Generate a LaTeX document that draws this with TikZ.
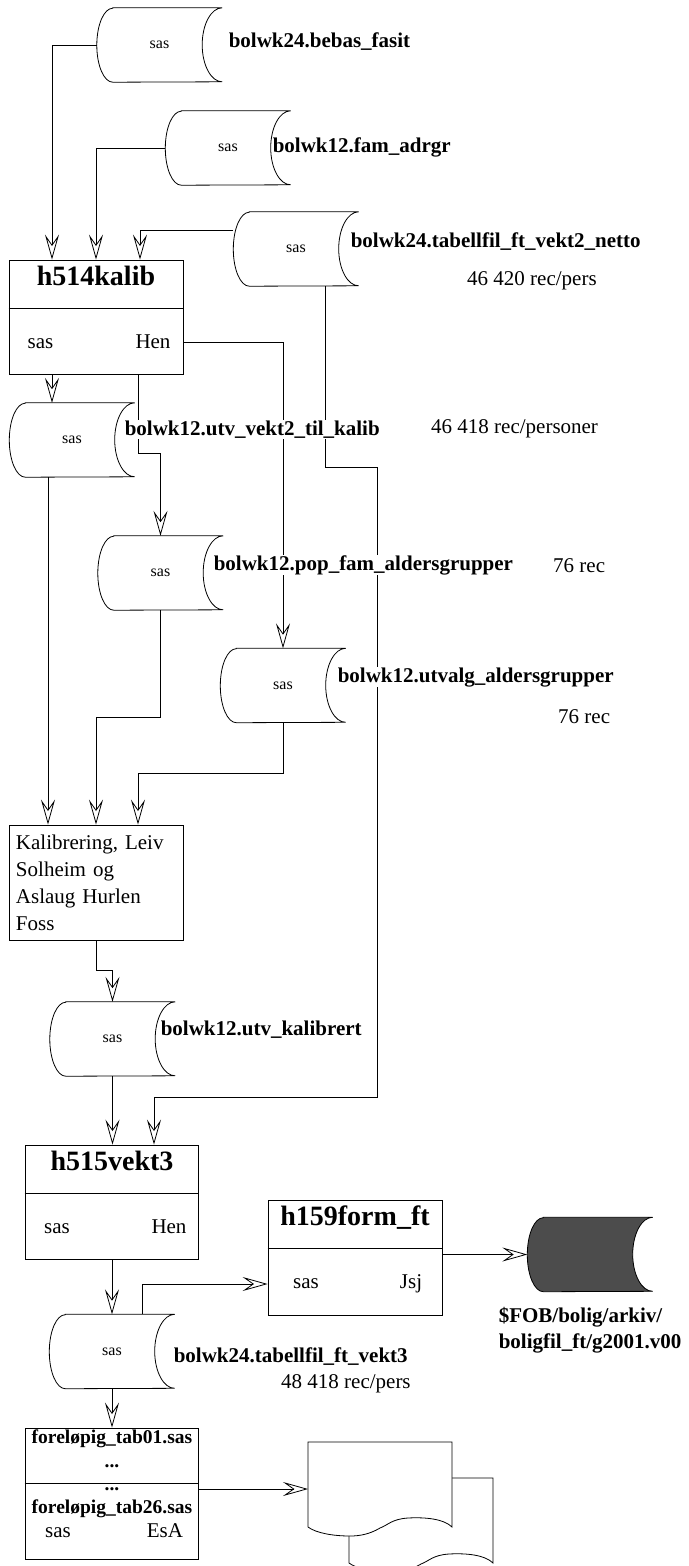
\documentclass[tikz,border=0pt]{standalone}
\usepackage{fontspec}
\setmainfont{Liberation Serif}
\usetikzlibrary{arrows.meta, calc}

\begin{document}
\begin{tikzpicture}[
    x=1pt, y=-1pt,
    % Stiler
    lagret/.style={rectangle, minimum width=125pt, minimum height=74pt, inner sep=0pt, font=\fontsize{16}{18}\selectfont},
    datakant/.style={draw=black, line width=0.8pt, fill=white},
    boks/.style={rectangle, draw=black, line width=0.8pt, minimum width=174pt, inner sep=0pt, fill=white},
    tittel/.style={font=\fontsize{28}{32}\selectfont\bfseries, anchor=base, inner sep=0pt},
    tekst/.style={font=\fontsize{21}{27}\selectfont, anchor=base, inner sep=0pt},
    smaafet/.style={font=\fontsize{19.5}{24}\selectfont\bfseries, anchor=base, inner sep=0pt},
    filnavn/.style={font=\fontsize{21}{27}\selectfont\bfseries, anchor=base west, fill=white, inner sep=0.6pt},
    antall/.style={font=\fontsize{21}{27}\selectfont, anchor=base west, inner sep=0pt},
    pil/.style={draw=black, line width=0.8pt, -{Stealth[open, length=25pt, width=14pt, inset=10pt]}}
]
\useasboundingbox (0,0) rectangle (688,1566);

% ==========================
% DATASETT (lagrede data)
% ==========================
\node[lagret] (bebas)     at (159.5,45)   {sas};
\node[lagret] (adrgr)     at (228,148)    {sas};
\node[lagret] (netto)     at (296,249)    {sas};
\node[lagret] (tilkalib)  at (72,440)     {sas};
\node[lagret] (popfam)    at (160.5,573)  {sas};
\node[lagret] (utvalg)    at (283,685.5)  {sas};
\node[lagret] (kalibrert) at (112.5,1039) {sas};
\node[lagret] (vekttre)   at (112,1351.5) {sas};
\node[lagret] (arkiv)     at (590,1254.5) {};

\foreach \n in {bebas, adrgr, netto, tilkalib, popfam, utvalg, kalibrert, vekttre} {
  \draw[datakant] ([xshift=16pt]\n.north west) -- (\n.north east)
    arc[start angle=90, end angle=270, x radius=20pt, y radius=37pt]
    -- ([xshift=16pt]\n.south west)
    arc[start angle=270, end angle=90, x radius=16pt, y radius=37pt] -- cycle;
  \node[lagret] at (\n) {sas};
}
\draw[datakant, fill=black!70] ([xshift=16pt]arkiv.north west) -- (arkiv.north east)
    arc[start angle=90, end angle=270, x radius=20pt, y radius=37pt]
    -- ([xshift=16pt]arkiv.south west)
    arc[start angle=270, end angle=90, x radius=16pt, y radius=37pt] -- cycle;

% ==========================
% PROGRAMBOKSER
% ==========================
\node[boks, minimum height=114pt] (kalib) at (96,317) {};
\draw[line width=0.8pt] ([yshift=-49pt]kalib.north west) -- ([yshift=-49pt]kalib.north east);
\node[tittel] (kalibtittel) at (96,285) {h514kalib};
\node[tekst] (kalibsas) at (40.5,348) {sas};
\node[tekst] (kalibhen) at (153,348) {Hen};

\node[boks, minimum height=115pt, text width=160pt, align=left, inner xsep=7pt,
      font=\fontsize{21}{27}\selectfont] (kalibrering) at (96,882.5)
      {Kalibrering, Leiv\\Solheim og\\Aslaug Hurlen\\Foss};

\node[boks, minimum width=173pt, minimum height=114pt] (vekt) at (111.5,1202) {};
\draw[line width=0.8pt] ([yshift=-49pt]vekt.north west) -- ([yshift=-49pt]vekt.north east);
\node[tittel] (vekttittel) at (112,1170) {h515vekt3};
\node[tekst] (vektsas) at (57,1233) {sas};
\node[tekst] (vekthen) at (169,1233) {Hen};

\node[boks, minimum height=115pt] (form) at (355,1257.5) {};
\draw[line width=0.8pt] ([yshift=-49pt]form.north west) -- ([yshift=-49pt]form.north east);
\node[tittel] (formtittel) at (355,1225) {h159form\_ft};
\node[tekst] (formsas) at (306,1288) {sas};
\node[tekst] (formjsj) at (411,1288) {Jsj};

\node[boks, minimum width=173pt, minimum height=131pt] (tab) at (111.5,1493.5) {};
\draw[line width=0.8pt] ([yshift=-56pt]tab.north west) -- ([yshift=-56pt]tab.north east);
\node[smaafet] (tabforst) at (112,1443) {foreløpig\_tab01.sas};
\node[smaafet] (tabprikk1) at (112,1467) {...};
\node[smaafet] (tabprikk2) at (112,1490) {...};
\node[smaafet] (tabsist) at (112,1513) {foreløpig\_tab26.sas};
\node[tekst] (tabsas) at (58,1537) {sas};
\node[tekst] (tabesa) at (165,1537) {EsA};

% ==========================
% DOKUMENTER (utskrift)
% ==========================
\def\dokform{(0,0) -- (144,0) -- (144,85)
  .. controls (136,77) and (118,75) .. (100,76)
  .. controls (84,77) and (80,83) .. (72,86)
  .. controls (62,92) and (52,94) .. (42,94)
  .. controls (25,94) and (8,91) .. (0,85) -- cycle}
\begin{scope}[shift={(349,1478)}]
  \draw[datakant] \dokform;
\end{scope}
\begin{scope}[shift={(308,1442)}]
  \draw[datakant] \dokform;
\end{scope}
\coordinate (dok) at (308,1489);

% ==========================
% PILER
% ==========================
\draw[pil] (bebas.west) -| (52,0 |- kalib.north);
\draw[pil] (adrgr.west) -| (96,0 |- kalib.north);
\draw[pil] (netto.west |- 0,230) -| (140,0 |- kalib.north);
\draw[pil] (kalib.east |- 0,342) -| (utvalg.north);
\draw[pil] (52,0 |- kalib.south) -- (52,0 |- tilkalib.north);
\draw[pil] (138,0 |- kalib.south) -- (138,453) -| (popfam.north);
\draw[pil] (325,0 |- netto.south) -- (325,467) -- (377,467) -- (377,1097) -| (154,0 |- vekt.north);

\draw[pil] (48,0 |- tilkalib.south) -- (48,0 |- kalibrering.north);
\draw[pil] (popfam.south) -- (160.5,717) -| (96,0 |- kalibrering.north);
\draw[pil] (utvalg.south) -- (283,773) -| (138,0 |- kalibrering.north);

\draw[pil] (96,0 |- kalibrering.south) -- (96,970) -| (kalibrert.north);
\draw[pil] (kalibrert.south) -- (kalibrert.south |- vekt.north);
\draw[pil] (vekttre.north |- vekt.south) -- (vekttre.north);
\draw[pil] (142,0 |- vekttre.north) |- (form.west |- 0,1284);
\draw[pil] (form.east |- arkiv.west) -- (arkiv.west);
\draw[pil] (vekttre.south) -- (vekttre.south |- tab.north);
\draw[pil] (tab.east |- dok) -- (dok);

% ==========================
% FILNAVN OG ANTALL
% ==========================
\node[filnavn] (bebasnavn) at (228,47) {bolwk24.bebas\_fasit};
\node[filnavn] (adrgrnavn) at (272,152) {bolwk12.fam\_adrgr};
\node[filnavn] (nettonavn) at (350,247) {bolwk24.tabellfil\_ft\_vekt2\_netto};
\node[antall] (nettoantall) at (467,285) {46 420 rec/pers};
\node[filnavn] (tilkalibnavn) at (124,435) {bolwk12.utv\_vekt2\_til\_kalib};
\node[antall] (tilkalibantall) at (431,433) {46 418 rec/personer};
\node[filnavn] (popfamnavn) at (213,570) {bolwk12.pop\_fam\_aldersgrupper};
\node[antall] (popfamantall) at (553,572) {76 rec};
\node[filnavn] (utvalgnavn) at (337,682) {bolwk12.utvalg\_aldersgrupper};
\node[antall] (utvalgantall) at (558,723) {76 rec};
\node[filnavn] (kalibrertnavn) at (160,1035) {bolwk12.utv\_kalibrert};
\node[filnavn] (vekttrenavn) at (173,1362) {bolwk24.tabellfil\_ft\_vekt3};
\node[antall] (vekttreantall) at (281,1388) {48 418 rec/pers};
\node[filnavn] (arkivnavn1) at (498,1322) {\$FOB/bolig/arkiv/};
\node[filnavn] (arkivnavn2) at (498,1348) {boligfil\_ft/g2001.v00};

\end{tikzpicture}
\end{document}
